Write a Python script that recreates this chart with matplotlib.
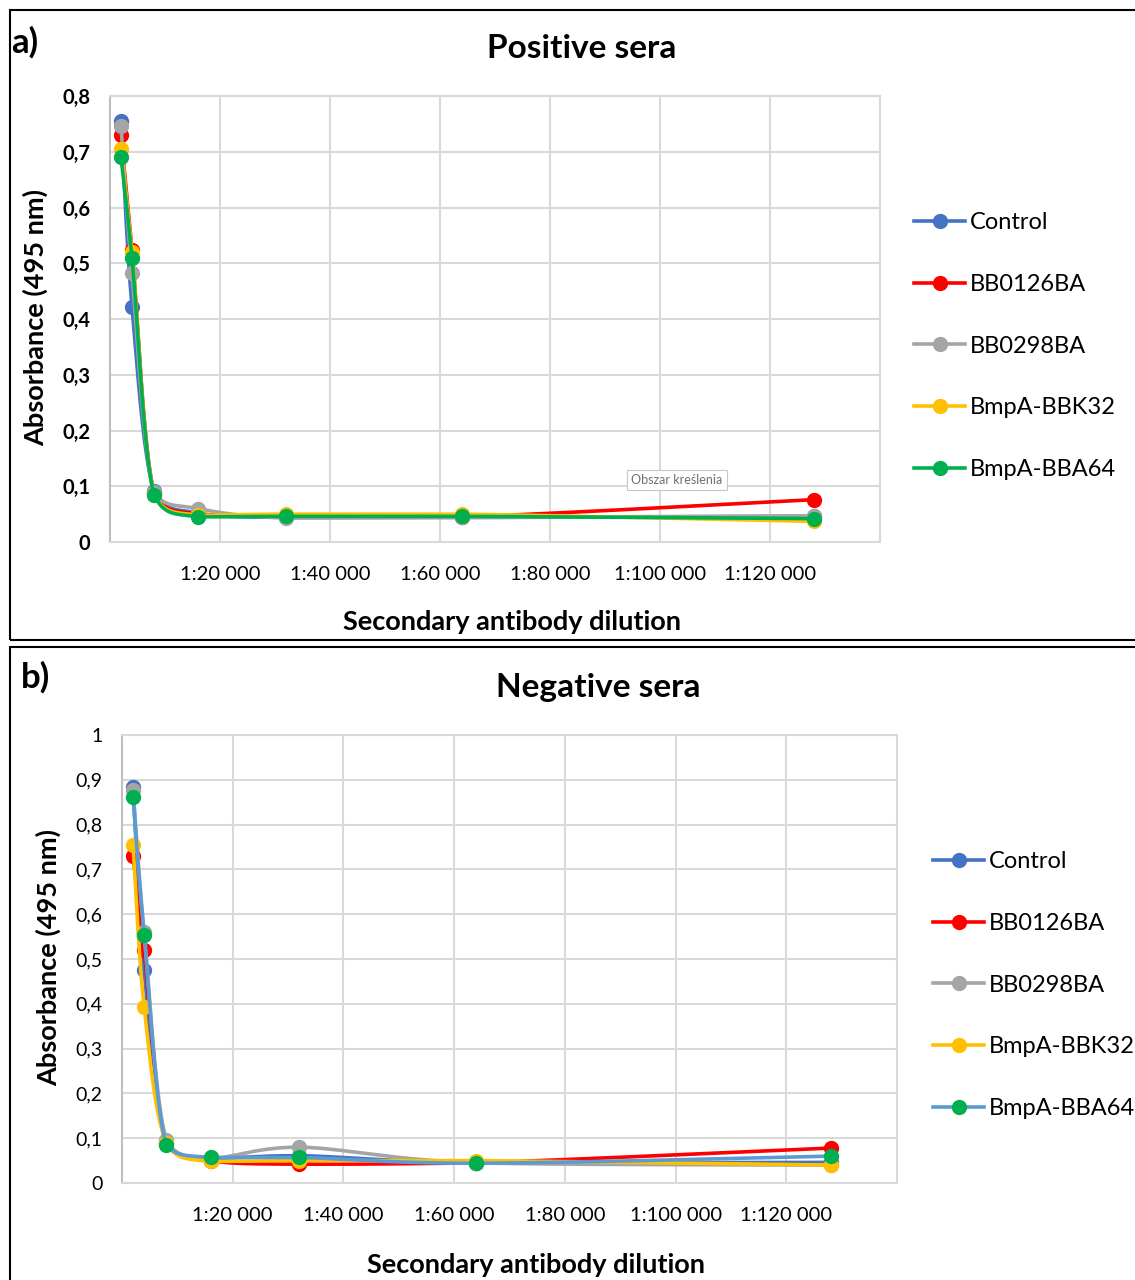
import numpy as np
import matplotlib
matplotlib.use("Agg")
import matplotlib.pyplot as plt
from matplotlib.patches import Rectangle
from matplotlib.lines import Line2D

plt.rcParams['font.family'] = ['Lato', 'DejaVu Sans']

# dilution (1:x)
dilution = [2000, 4000, 8000, 16000, 32000, 64000, 128000]
series_names = ["Control", "BB0126BA", "BB0298BA", "BmpA-BBK32", "BmpA-BBA64"]

# absorbance at 495 nm, positive sera
pos_control = [0.755, 0.422, 0.092, 0.052, 0.044, 0.044, 0.046]
pos_bb0126 = [0.730, 0.524, 0.088, 0.050, 0.047, 0.045, 0.076]
pos_bb0298 = [0.746, 0.482, 0.090, 0.060, 0.043, 0.044, 0.047]
pos_bbk32 = [0.705, 0.520, 0.085, 0.048, 0.050, 0.050, 0.037]
pos_bba64 = [0.690, 0.509, 0.084, 0.045, 0.046, 0.046, 0.042]

# negative sera
neg_control = [0.884, 0.475, 0.090, 0.055, 0.061, 0.045, 0.046]
neg_bb0126 = [0.730, 0.520, 0.090, 0.050, 0.042, 0.045, 0.078]
neg_bb0298 = [0.877, 0.560, 0.096, 0.055, 0.080, 0.045, 0.040]
neg_bbk32 = [0.754, 0.393, 0.090, 0.048, 0.050, 0.050, 0.040]
neg_bba64 = [0.862, 0.553, 0.085, 0.057, 0.057, 0.044, 0.060]

x_ticks = [20000, 40000, 60000, 80000, 100000, 120000]
x_ticklabels = ["1:20 000", "1:40 000", "1:60 000", "1:80 000", "1:100 000", "1:120 000"]

marker_colors = ["#4472C4", "#FF0000", "#A5A5A5", "#FFC000", "#00B050"]
line_colors_a = ["#4472C4", "#FF0000", "#A5A5A5", "#FFC000", "#00B050"]
line_colors_b = ["#4472C4", "#FF0000", "#A5A5A5", "#FFC000", "#5B9BD5"]

W, H = 1135, 1280
fig = plt.figure(figsize=(W / 100, H / 100), dpi=100)


def px_axes(l, t, r, b):
    return fig.add_axes([l / W, 1 - b / H, (r - l) / W, (b - t) / H])


def ftext(x, y, s, **kw):
    return fig.text(x / W, 1 - y / H, s, **kw)


def smooth(ax, x, y, n=40):
    # Excel-like smoothed line, computed in screen space
    P = ax.transData.transform(np.column_stack([x, y]))
    out = [P[0]]
    t = np.linspace(0, 1, n)[1:, None]
    for i in range(len(P) - 1):
        p0 = P[i - 1] if i > 0 else P[i]
        p3 = P[i + 2] if i + 2 < len(P) else P[i + 1]
        c1 = P[i] + (P[i + 1] - p0) / 6
        c2 = P[i + 1] - (p3 - P[i]) / 6
        lo, hi = min(P[i][1], P[i + 1][1]), max(P[i][1], P[i + 1][1])
        c1[1] = np.clip(c1[1], lo, hi)
        c2[1] = np.clip(c2[1], lo, hi)
        seg = ((1 - t) ** 3) * P[i] + 3 * ((1 - t) ** 2) * t * c1 \
            + 3 * (1 - t) * t ** 2 * c2 + t ** 3 * P[i + 1]
        out.extend(seg)
    D = ax.transData.inverted().transform(np.array(out))
    return D[:, 0], D[:, 1]


def fmt(v):
    s = ("%.1f" % v).replace(".", ",")
    if s == "0,0":
        return "0"
    if s == "1,0":
        return "1"
    return s


def panel(ax, data, line_colors, ymax, ybold, leg_x, leg_y):
    ax.set_xlim(0, 140000)
    ax.set_ylim(0, ymax)
    for s in ax.spines.values():
        s.set_color("#d9d9d9")
        s.set_linewidth(1.5)
    ax.spines["left"].set_color("#bfbfbf")
    ax.set_xticks(x_ticks)
    ax.set_xticklabels(x_ticklabels, fontsize=14.5)
    yt = np.round(np.arange(0, ymax + 0.001, 0.1), 1)
    ax.set_yticks(yt)
    if ybold:
        ax.set_yticklabels([fmt(v) for v in yt], fontsize=14.5, fontweight="bold")
    else:
        ax.set_yticklabels([fmt(v) for v in yt], fontsize=14)
    ax.tick_params(length=0, pad=14)
    ax.tick_params(axis="x", pad=17)
    ax.grid(True, color="#d9d9d9", linewidth=1.5)
    ax.set_axisbelow(True)

    handles = []
    for vals, lc, mc in zip(data, line_colors, marker_colors):
        sx, sy = smooth(ax, dilution, vals)
        ax.plot(sx, sy, color=lc, lw=2.6, solid_capstyle="round", clip_on=False)
        ax.plot(dilution, vals, "o", color=mc, ms=10, clip_on=False)
        handles.append(Line2D([0], [0], color=lc, lw=2.6, marker="o",
                              markerfacecolor=mc, markeredgecolor=mc, ms=10))
    ax.legend(handles, series_names, loc="upper left",
              bbox_to_anchor=(leg_x / W, 1 - leg_y / H), bbox_transform=fig.transFigure,
              frameon=False, fontsize=17, handlelength=2.15, handletextpad=0.2,
              labelspacing=1.72, borderaxespad=0)


ax_a = px_axes(110, 96, 880, 542)
panel(ax_a, [pos_control, pos_bb0126, pos_bb0298, pos_bbk32, pos_bba64],
      line_colors_a, 0.8, True, 905, 203)

ax_b = px_axes(122, 735, 897, 1183)
panel(ax_b, [neg_control, neg_bb0126, neg_bb0298, neg_bbk32, neg_bba64],
      line_colors_b, 1.0, False, 924, 842)

# titles and axis labels
lab = dict(fontsize=19.5, fontweight="bold", ha="center", va="center")
ftext(582, 48, "Positive sera", fontsize=24, fontweight="bold", ha="center", va="center")
ftext(598, 688, "Negative sera", fontsize=24, fontweight="bold", ha="center", va="center")
ftext(512, 622, "Secondary antibody dilution", **lab)
ftext(536, 1265, "Secondary antibody dilution", **lab)
ftext(35, 318, "Absorbance (495 nm)", rotation=90, **lab)
ftext(48, 958, "Absorbance (495 nm)", rotation=90, **lab)

# tooltip left in the screenshot
ftext(677, 480, "Obszar kreślenia", fontsize=9, color="#707070", ha="center", va="center",
      bbox=dict(boxstyle="square,pad=0.35", fc="white", ec="#c8c8c8", lw=0.8))

# panel frames and letters
fig.patches.append(Rectangle((10 / W, 1 - 640 / H), 1.2, 630 / H, transform=fig.transFigure,
                             fill=False, ec="black", lw=1.5))
fig.patches.append(Rectangle((10 / W, -0.01), 1.2, (1280 - 647) / H + 0.01,
                             transform=fig.transFigure, fill=False, ec="black", lw=1.5))
ftext(11, 42, "a)", fontsize=25, fontweight="bold", va="center", ha="left")
ftext(21, 677, "b)", fontsize=25, fontweight="bold", va="center", ha="left")

fig.savefig("out.png", dpi=100)
